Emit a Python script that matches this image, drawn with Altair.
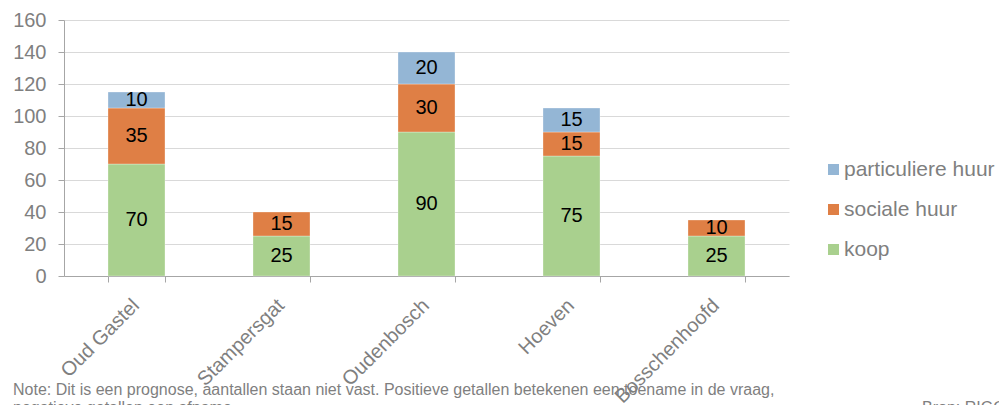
import altair as alt
import pandas as pd

# Woningbehoefte per kern, opgesplitst naar segment
places = ["Oud Gastel", "Stampersgat", "Oudenbosch", "Hoeven", "Bosschenhoofd"]
koop = [70, 25, 90, 75, 25]
sociale_huur = [35, 15, 30, 15, 10]
particuliere_huur = [10, 0, 20, 15, 0]

segments = ["koop", "sociale huur", "particuliere huur"]
legend_order = ["particuliere huur", "sociale huur", "koop"]
colors = {"koop": "#A9D08E", "sociale huur": "#DF7F45", "particuliere huur": "#94B6D5"}

rows = []
for i, p in enumerate(places):
    for k, (seg, vals) in enumerate(zip(segments, [koop, sociale_huur, particuliere_huur])):
        if vals[i] > 0:
            rows.append({"place": p, "segment": seg, "value": vals[i], "rank": k})
df = pd.DataFrame(rows)

note_line1 = "Note: Dit is een prognose, aantallen staan niet vast. Positieve getallen betekenen een toename in de vraag,"
note_line2 = "negatieve getallen een afname."
source = "Bron: RIGO"

GRAY = "#7F7F7F"
AXIS_GRAY = "#A6A6A6"
FONT = "Liberation Sans"

y_scale = alt.Scale(domain=[0, 160], nice=False)
x_scale = alt.Scale(paddingInner=0.607, paddingOuter=0.3035)

x_axis = alt.Axis(
    title=None,
    labelAngle=-45,
    labelFontSize=20,
    labelColor=GRAY,
    labelFont=FONT,
    labelPadding=13,
    labelOffset=-8,
    labelOverlap=False,
    tickBand="extent",
    tickSize=6,
    tickColor=AXIS_GRAY,
    domainColor=AXIS_GRAY,
    grid=False,
)
y_axis = alt.Axis(
    title=None,
    values=list(range(0, 161, 20)),
    labelOverlap=False,
    labelFontSize=20,
    labelColor=GRAY,
    labelFont=FONT,
    labelPadding=12,
    tickSize=6,
    tickColor=AXIS_GRAY,
    domainColor=AXIS_GRAY,
    gridColor="#D9D9D9",
    gridWidth=1,
)

base = alt.Chart(df).transform_stack(
    stack="value",
    groupby=["place"],
    sort=[alt.SortField("rank", order="ascending")],
    as_=["y0", "y1"],
).transform_calculate(mid="(datum.y0 + datum.y1) / 2")

bars = base.mark_bar(stroke="#FFFFFF", strokeWidth=0.5, strokeOpacity=0.6).encode(
    x=alt.X("place:N", sort=places, scale=x_scale, axis=x_axis),
    y=alt.Y("y0:Q", scale=y_scale, axis=y_axis),
    y2="y1:Q",
    color=alt.Color(
        "segment:N",
        scale=alt.Scale(domain=legend_order, range=[colors[s] for s in legend_order]),
        legend=alt.Legend(
            title=None,
            orient="none",
            legendX=759,
            legendY=139,
            symbolType="square",
            symbolSize=121,
            symbolStrokeWidth=0,
            labelFontSize=21,
            labelColor=GRAY,
            labelFont=FONT,
            labelOffset=0,
            rowPadding=18,
        ),
    ),
    order=alt.Order("rank:Q"),
)

labels = base.mark_text(fontSize=20, font=FONT, color="#000000", baseline="middle").encode(
    x=alt.X("place:N", sort=places, scale=x_scale, axis=x_axis),
    y=alt.Y("mid:Q", scale=y_scale, axis=y_axis),
    text=alt.Text("value:Q"),
)

text_style = dict(align="left", baseline="alphabetic", fontSize=16, font=FONT, color=GRAY)
note1 = alt.Chart(pd.DataFrame({"t": [note_line1]})).mark_text(**text_style).encode(
    x=alt.value(-51), y=alt.value(375), text="t:N"
)
note2 = alt.Chart(pd.DataFrame({"t": [note_line2]})).mark_text(**text_style).encode(
    x=alt.value(-51), y=alt.value(393), text="t:N"
)
src = alt.Chart(pd.DataFrame({"t": [source]})).mark_text(**text_style).encode(
    x=alt.value(858), y=alt.value(393), text="t:N"
)

chart = (
    alt.layer(bars, labels, note1, note2, src)
    .properties(
        width=725,
        height=256,
        autosize=alt.AutoSizeParams(type="none"),
        padding={"left": 64, "top": 20, "right": 210, "bottom": 129},
        background="#FFFFFF",
    )
    .configure_view(stroke=None)
)

chart.save("out.html", embed_options={"renderer": "svg", "actions": False})
